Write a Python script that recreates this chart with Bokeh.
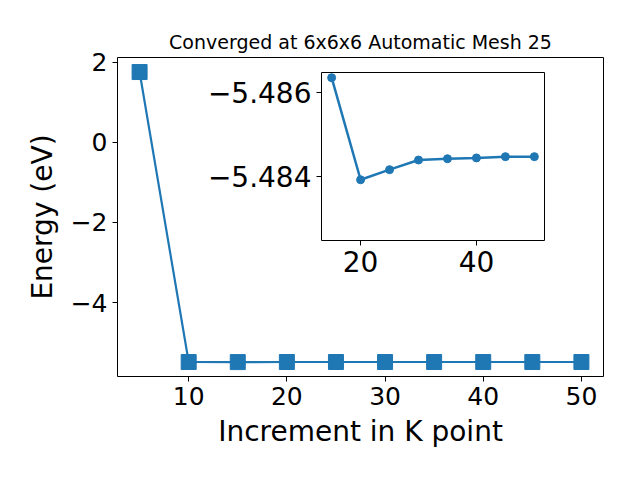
from bokeh.plotting import figure
from bokeh.models import Range1d, FixedTicker, CustomJSTickFormatter
from bokeh.embed import file_html
from bokeh.resources import INLINE

# Main data
kpoints = [5, 10, 15, 20, 25, 30, 35, 40, 45, 50]
energy = [1.757, -5.4843, -5.48636, -5.48393, -5.48417, -5.48440, -5.48443, -5.48445, -5.48448, -5.48448]
# Inset data
inset_k = [15, 20, 25, 30, 35, 40, 45, 50]
inset_e = [-5.48636, -5.48393, -5.48417, -5.48440, -5.48443, -5.48445, -5.48448, -5.48448]

title_text = "Converged at 6x6x6 Automatic Mesh 25"
x_label = "Increment in K point"
y_label = "Energy (eV)"
main_xticks = [10, 20, 30, 40, 50]
main_yticks = [-4, -2, 0, 2]
inset_xticks = [20, 40]
inset_yticks = [-5.486, -5.484]

BLUE = "#1f77b4"
FONT = "DejaVu Sans"

minus_fmt_int = CustomJSTickFormatter(code="return String(Math.round(tick)).replace('-', '\\u2212');")
minus_fmt_3 = CustomJSTickFormatter(code="return tick.toFixed(3).replace('-', '\\u2212');")


def style_axes(fig, tick_size):
    for ax in (fig.xaxis[0], fig.yaxis[0]):
        ax.axis_line_color = None
        ax.major_tick_in = 0
        ax.major_tick_out = 5
        ax.major_tick_line_color = "black"
        ax.major_tick_line_width = 1
        ax.minor_tick_line_color = None
        ax.major_label_text_font = FONT
        ax.major_label_text_font_size = tick_size
        ax.major_label_text_color = "black"
        ax.major_label_standoff = 5
        ax.axis_label_text_font = FONT
        ax.axis_label_text_font_style = "normal"
        ax.axis_label_text_color = "black"
    fig.xgrid.visible = False
    fig.ygrid.visible = False
    fig.outline_line_color = "black"
    fig.outline_line_width = 1


p = figure(width=630, height=470, output_backend="svg", toolbar_location=None,
           x_range=Range1d(2.75, 52.25), y_range=Range1d(-5.846, 2.12),
           min_border_left=117, min_border_top=57, min_border_right=27, min_border_bottom=94)
p.title.text = title_text
p.title.align = "center"
p.title.text_font = FONT
p.title.text_font_size = "19px"
p.title.text_font_style = "normal"
p.title.text_color = "black"
style_axes(p, "25px")
p.xaxis.ticker = FixedTicker(ticks=main_xticks)
p.yaxis.ticker = FixedTicker(ticks=main_yticks)
p.yaxis.formatter = minus_fmt_int
p.xaxis.axis_label = x_label
p.yaxis.axis_label = y_label
p.xaxis.axis_label_text_font_size = "28px"
p.yaxis.axis_label_text_font_size = "28px"
p.xaxis.axis_label_standoff = 7
p.yaxis.axis_label_standoff = 9
p.line(kpoints, energy, line_color=BLUE, line_width=2.2)
p.scatter(kpoints, energy, marker="square", size=15, fill_color=BLUE, line_color=BLUE)

inset = figure(width=358, height=223, output_backend="svg", toolbar_location=None,
               x_range=Range1d(13.25, 51.75), y_range=Range1d(-5.482484, -5.486483),
               min_border_left=125, min_border_top=10, min_border_right=10, min_border_bottom=45,
               border_fill_color=None, background_fill_color="white")
style_axes(inset, "28px")
inset.xaxis.ticker = FixedTicker(ticks=inset_xticks)
inset.yaxis.ticker = FixedTicker(ticks=inset_yticks)
inset.yaxis.formatter = minus_fmt_3
inset.line(inset_k, inset_e, line_color=BLUE, line_width=2.5)
inset.scatter(inset_k, inset_e, marker="circle", size=8, fill_color=BLUE, line_color=BLUE)
inset.styles = {"position": "absolute", "left": "196px", "top": "62px"}

open("out.html", "w").write(file_html([p, inset], INLINE))
